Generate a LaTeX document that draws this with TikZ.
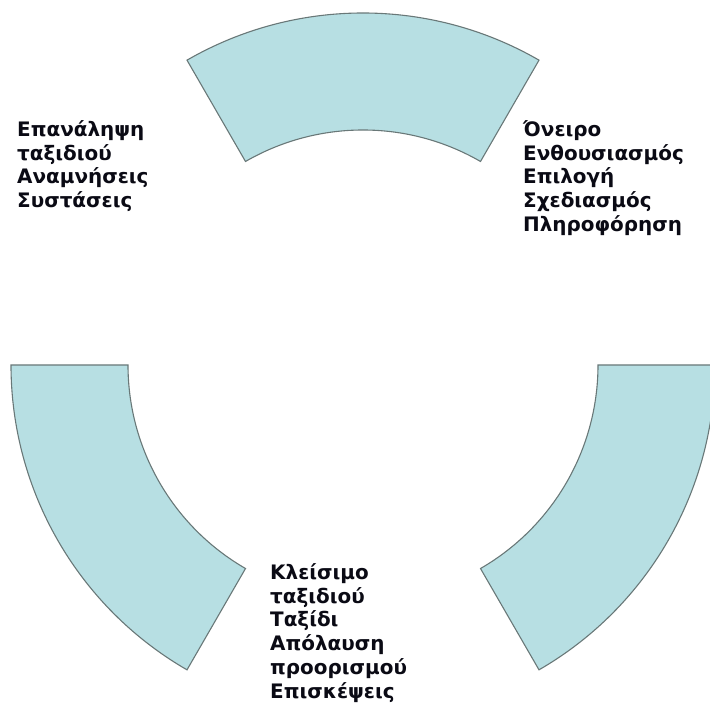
\documentclass[tikz,border=0pt]{standalone}
\usepackage{fontspec}
\setmainfont{DejaVu Sans}
\begin{document}
\begin{tikzpicture}[x=1bp,y=1bp,
  seg/.style={fill={rgb,255:red,183;green,223;blue,227},draw={rgb,255:red,105;green,120;blue,120},line width=1.1bp,line join=miter},
  lbl/.style={anchor=north west,inner sep=0pt,align=left,font=\fontsize{20}{24}\selectfont\bfseries,text={rgb,255:red,10;green,10;blue,20}}]
\clip (0,0) rectangle (710,704);
\begin{scope}[shift={(363,339)}]
  \foreach \a in {60,180,300}{
    \pgfmathsetmacro\b{\a+60}
    \draw[seg] (\a:352) arc[start angle=\a,end angle=\b,radius=352] -- (\b:235) arc[start angle=\b,end angle=\a,radius=235] -- cycle;
  }
\end{scope}
\node[lbl] (past) at (17,584) {Επανάληψη\\ταξιδιού\\Αναμνήσεις\\Συστάσεις};
\node[lbl] (pre) at (523,584) {Όνειρο\\Ενθουσιασμός\\Επιλογή\\Σχεδιασμός\\Πληροφόρηση};
\node[lbl] (trip) at (270,141) {Κλείσιμο\\ταξιδιού\\Ταξίδι\\Απόλαυση\\προορισμού\\Επισκέψεις};
\end{tikzpicture}
\end{document}
